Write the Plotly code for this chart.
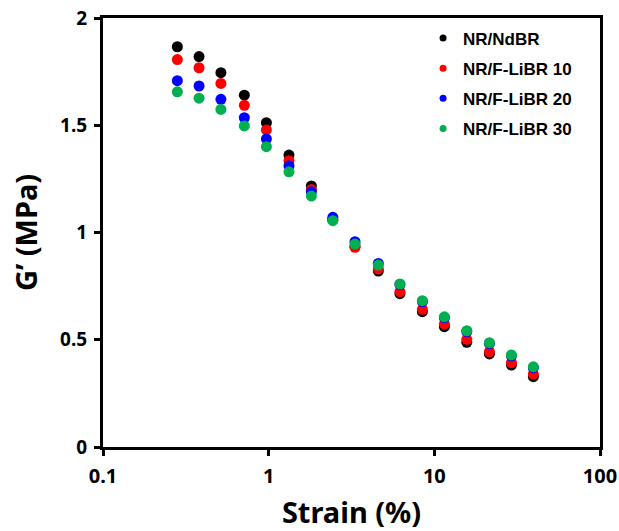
import plotly.graph_objects as go

strain = [0.281, 0.380, 0.515, 0.713, 0.969, 1.326, 1.81, 2.44, 3.32, 4.59,
          6.2, 8.47, 11.5, 15.7, 21.5, 29.2, 39.6]

g_ndbr = [1.866, 1.820, 1.745, 1.640, 1.512, 1.361, 1.217, 1.060, 0.935, 0.820,
          0.715, 0.631, 0.561, 0.488, 0.434, 0.382, 0.328]
g_f10 = [1.806, 1.768, 1.695, 1.593, 1.478, 1.335, 1.201, 1.060, 0.931, 0.830,
         0.724, 0.642, 0.573, 0.502, 0.444, 0.393, 0.340]
g_f20 = [1.708, 1.683, 1.621, 1.535, 1.436, 1.311, 1.190, 1.071, 0.957, 0.856,
         0.758, 0.678, 0.603, 0.538, 0.482, 0.425, 0.370]
g_f30 = [1.656, 1.626, 1.574, 1.497, 1.400, 1.283, 1.170, 1.055, 0.946, 0.848,
         0.760, 0.682, 0.607, 0.542, 0.486, 0.429, 0.374]

names = ["NR/NdBR", "NR/F-LiBR 10", "NR/F-LiBR 20", "NR/F-LiBR 30"]
colors = ["#000000", "#ff0000", "#0000ff", "#00b050"]
series = [g_ndbr, g_f10, g_f20, g_f30]

x_ticks = [0.1, 1, 10, 100]
x_ticktext = ["0.1", "1", "10", "100"]
y_ticks = [0, 0.5, 1, 1.5, 2]
y_ticktext = ["0", "0.5", "1", "1.5", "2"]

fig = go.Figure()
for name, col, ys in zip(names, colors, series):
    fig.add_trace(go.Scatter(
        x=strain, y=ys, mode="markers", name=name, showlegend=False,
        marker=dict(color=col, size=11, line=dict(width=0)),
    ))
# legend entries (smaller symbols)
for i, (name, col) in enumerate(zip(names, colors)):
    fig.add_trace(go.Scatter(
        x=[None], y=[None], mode="markers", name=name, legendgroup=f"g{i}",
        marker=dict(color=col, size=7),
    ))

axis_common = dict(
    showline=True, linecolor="black", linewidth=3, mirror=True,
    ticks="outside", ticklen=6, tickwidth=2.5, tickcolor="black",
    showgrid=False, zeroline=False, automargin=False, ticklabelstandoff=3,
)

fig.update_layout(
    width=619, height=531,
    margin=dict(l=103, r=19, t=18, b=84),
    paper_bgcolor="white", plot_bgcolor="white",
    xaxis=dict(type="log", range=[-1, 2], tickvals=x_ticks, ticktext=x_ticktext,
               tickfont=dict(family="Noto Sans", size=20, color="black", weight="bold"),
               title=dict(text="Strain (%)", standoff=22,
                          font=dict(family="Noto Sans", size=29, color="black", weight="bold")),
               **axis_common),
    yaxis=dict(range=[0, 2], tickvals=y_ticks, ticktext=y_ticktext,
               tickfont=dict(family="Noto Sans", size=19, color="black", weight="bold"),
               title=dict(text="G’ (MPa)", standoff=14,
                          font=dict(family="Noto Sans", size=29, color="black", weight="bold")),
               **axis_common),
    legend=dict(x=0.644, y=0.994, xanchor="left", yanchor="top",
                bgcolor="rgba(0,0,0,0)", tracegroupgap=5,
                font=dict(family="Liberation Sans", size=17, color="black", weight="bold"),
                itemwidth=30),
    showlegend=True,
)

fig.write_html("out.html", config={"displayModeBar": False},
               post_script="document.body.style.margin='0';")
